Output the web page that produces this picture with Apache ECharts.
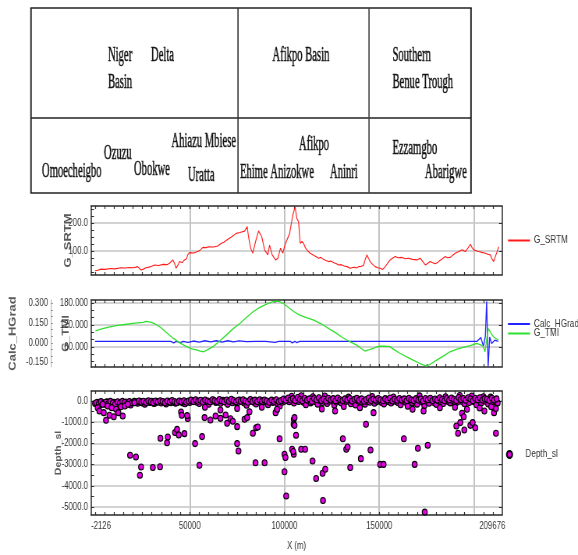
<!DOCTYPE html>
<html><head><meta charset="utf-8">
<script src="https://cdn.jsdelivr.net/npm/echarts@6.0.0/dist/echarts.min.js"></script>
<style>
html,body{margin:0;padding:0;background:#fff;overflow:hidden;width:578px;height:555px}
#c{width:741px;height:555px;transform:scaleX(0.78);transform-origin:0 0}
</style>
</head><body><div id="c"></div>
<script>
// ---------------- data ----------------
const xLabelValues = [-2126, 50000, 100000, 150000, 200000, 209676];
const xGridValues = [50000, 100000, 150000, 200000];
const srtmLabels = [100, 200];
const tmiLabels = [60, 120, 180];
const hgradLabels = [-0.15, 0, 0.15, 0.3];
const depthLabels = [0, -1000, -2000, -3000, -4000, -5000];

const srtm = [[0,29],[1500,31],[3100,35],[5500,34],[8000,37],[10500,36],[13700,40],[16000,39],[18000,41],[20500,40],[22500,44],[24300,32],[25500,35],[26900,40],[29000,43],[31400,50],[33500,48],[36000,52],[38000,51],[39300,56],[41000,68],[42000,55],[42800,38],[43800,50],[44600,62],[46000,58],[47200,68],[48300,72],[48900,86],[49800,94],[52000,93],[54200,98],[55500,103],[56900,113],[58500,112],[60000,115],[62500,114],[64800,118],[66500,127],[68000,131],[70100,142],[72000,150],[74500,163],[76500,166],[78900,171],[79600,176],[80300,187],[81000,151],[82100,110],[83300,92],[84700,133],[86300,172],[88000,151],[89500,104],[91200,86],[92100,121],[93500,86],[95300,68],[96500,74],[97900,110],[99100,92],[100000,115],[100900,133],[102700,163],[104400,229],[105600,258],[106500,217],[107400,205],[108300,127],[109200,134],[110100,127],[111000,112],[111800,104],[112600,97],[113500,92],[114500,88],[115500,84],[116800,79],[118000,74],[119200,77],[120500,70],[121800,66],[123300,62],[124500,64],[126000,58],[127200,55],[128500,50],[130000,51],[131500,46],[133000,44],[134700,38],[136000,41],[137000,42],[138000,39],[139100,44],[140500,45],[141700,48],[142600,70],[143500,86],[144300,74],[145200,62],[146500,52],[147900,44],[149200,40],[150500,38],[151800,34],[153200,44],[154500,57],[155800,68],[157000,74],[158400,80],[160000,76],[162000,77],[163800,72],[165500,74],[167500,70],[169900,68],[171600,74],[173000,62],[174300,50],[175500,55],[176900,62],[178200,58],[179600,54],[181000,60],[182000,66],[183500,73],[184800,80],[186000,76],[187500,77],[188800,85],[190100,92],[191800,97],[193700,104],[194500,110],[195400,98],[196800,110],[198100,124],[199000,112],[199900,104],[201200,101],[202500,98],[204200,95],[206000,92],[207300,88],[208600,86],[209500,72],[210400,62],[211600,86],[213100,115]];

const tmi = [[200,104],[4000,110],[7700,115],[12000,119],[16600,122],[21000,125],[25300,127],[27000,130],[29800,127],[32000,122],[34200,115],[37500,100],[41200,84],[44500,72],[48300,61],[51000,55],[53500,52],[55500,49],[57400,47],[59500,53],[62300,61],[65500,75],[69400,93],[72500,108],[76400,124],[80000,141],[83400,156],[87000,168],[90500,177],[92500,181],[94900,185],[97000,184],[99300,179],[102800,165],[105000,156],[108100,147],[111500,140],[115100,134],[117500,128],[120400,120],[124000,108],[127500,97],[130000,88],[132800,79],[135500,72],[138100,65],[140500,56],[142400,49],[144500,52],[146800,56],[148500,60],[150400,62],[153000,62],[155600,61],[158000,52],[160900,43],[164500,33],[167900,24],[171500,15],[175000,8],[177500,15],[180300,24],[184000,36],[187300,47],[191000,54],[194400,59],[198000,64],[201400,70],[203500,66],[204800,62],[205800,47],[206800,85],[207600,110],[209000,98],[210200,88],[212800,79]];

const hgrad = [[0,0.012],[20000,0.012],[40000,0.012],[41500,0.0],[43000,0.012],[45000,0.002],[46500,0.012],[49000,0.004],[52000,0.014],[55000,0.006],[58000,0.016],[61000,0.008],[64000,0.016],[67000,0.006],[70000,0.016],[73000,0.008],[76000,0.015],[80000,0.01],[85000,0.012],[90000,0.012],[95000,0.004],[97000,0.012],[103000,0.012],[104000,0.0],[105500,0.012],[106500,0.002],[108000,0.012],[130500,0.012],[131000,0.002],[131600,0.012],[140000,0.012],[140600,0.002],[141600,0.012],[142300,0.002],[143000,0.012],[187800,0.012],[188300,0.004],[188900,0.012],[193000,0.012],[193500,0.004],[194000,0.012],[201700,0.012],[203600,0.04],[205000,-0.025],[206000,0.05],[206700,0.315],[207500,-0.18],[208300,0.045],[209300,-0.005],[211000,0.02],[212800,0.012]];

const depthBand = [[0,-120],[1300,-60],[2500,-200],[3800,-90],[5000,-150],[6300,-40],[7500,-180],[8800,-100],[10000,-60],[11300,-220],
[12500,-130],[13800,-80],[15000,-170],[16300,-50],[17500,-110],[18800,-190],[20000,-70],[21300,-40],[22500,-110],[23800,-20],
[25000,-90],[26300,-150],[27500,-30],[28800,-70],[30000,-10],[31300,-120],[32500,-60],[33800,-30],[35000,-100],[36300,-50],
[37500,-140],[38800,-20],[40000,-80],[41300,-40],[42500,-110],[43800,-60],[45000,-20],[46300,-90],[47500,-130],[48800,-30],
[50000,-70],[51300,-10],[52500,20],[53800,-60],[55000,-120],[56300,10],[57500,-30],[58800,-90],[60000,-150],[61300,-20],
[62500,40],[63800,-70],[65000,-10],[66300,-110],[67500,30],[68800,-50],[70000,-160],[71300,0],[72500,-80],[73800,-30],
[75000,-120],[76300,50],[77500,-40],[78800,-100],[80000,-200],[81300,-20],[82500,30],[83800,-60],[85000,-140],[86300,-10],
[87500,-90],[88800,20],[90000,-50],[91300,-180],[92500,-30],[93800,-70],[95000,10],[96300,-120],[97500,-240],[98800,-60],
[100000,-10],[101300,80],[102500,-40],[103800,220],[105000,-100],[106300,60],[107500,-20],[108800,250],[110000,-60],[111300,-180],
[112500,40],[113800,-90],[115000,200],[116300,-30],[117500,-150],[118800,20],[120000,-70],[121300,230],[122500,-120],[123800,-10],
[125000,60],[126300,-200],[127500,-50],[128800,30],[130000,-100],[131300,-260],[132500,-20],[133800,180],[135000,-130],[136300,-40],
[137500,-190],[138800,10],[140000,-80],[141300,50],[142500,-150],[143800,-20],[145000,-60],[146300,210],[147500,-110],[148800,-30],
[150000,20],[151300,-70],[152500,-140],[153800,40],[155000,-40],[156300,-100],[157500,190],[158800,-20],[160000,-80],[161300,-180],
[162500,0],[163800,-60],[165000,-250],[166300,30],[167500,-90],[168800,-30],[170000,-150],[171300,240],[172500,-50],[173800,-220],
[175000,-10],[176300,-110],[177500,40],[178800,-70],[180000,-160],[181300,10],[182500,-40],[183800,-120],[185000,200],[186300,-30],
[187500,-90],[188800,20],[190000,-200],[191300,-50],[192500,260],[193800,-20],[195000,-130],[196300,40],[197500,-70],[198800,230],
[200000,-40],[201300,-180],[202500,30],[203800,-100],[205000,200],[206300,-20],[207500,-140],[208800,180],[210000,-60],[211300,-10],[212500,-90]];

const depthBand2 = [[650,-80],[1950,-150],[3150,-30],[4450,-110],[5650,-60],[6950,-130],[8150,-20],[9450,-90],[10650,-160],[11950,-40],
[13150,-100],[14450,-20],[15650,-70],[16950,-140],[18150,-30],[19450,-90],[20650,-20],[21950,-60],[23150,0],[24450,-50],
[25650,-10],[26950,-70],[28150,10],[29450,-40],[30650,-90],[31950,0],[33150,-50],[34450,10],[35650,-30],[36950,-80],
[38150,0],[39450,-50],[40650,20],[41950,-30],[43150,-70],[44450,0],[45650,-40],[46950,10],[48150,-60],[49450,0],
[50650,40],[51950,-30],[53150,60],[54450,-10],[55650,30],[56950,-50],[58150,50],[59450,0],[60650,-40],[61950,60],
[63150,10],[64450,-30],[65650,70],[66950,0],[68150,-40],[69450,50],[70650,-10],[71950,80],[73150,20],[74450,-40],
[75650,30],[76950,-10],[78150,60],[79450,0],[80650,-60],[81950,70],[83150,-20],[84450,40],[85650,-30],[86950,60],
[88150,-10],[89450,50],[90650,0],[91950,-60],[93150,40],[94450,-20],[95650,60],[96950,-30],[98150,20],[99450,90],
[100650,30],[101950,140],[103150,50],[104450,110],[105650,20],[106950,160],[108150,70],[109450,10],[110650,130],[111950,40],
[113150,100],[114450,-20],[115650,120],[116950,60],[118150,150],[119450,20],[120650,90],[121950,0],[123150,130],[124450,50],
[125650,110],[126950,10],[128150,140],[129450,60],[130650,20],[131950,100],[133150,40],[134450,120],[135650,0],[136950,80],
[138150,130],[139450,30],[140650,100],[141950,-10],[143150,70],[144450,140],[145650,20],[146950,90],[148150,40],[149450,120],
[150650,60],[151950,10],[153150,110],[154450,40],[155650,140],[156950,0],[158150,80],[159450,30],[160650,120],[161950,50],
[163150,100],[164450,10],[165650,130],[166950,60],[168150,20],[169450,110],[170650,40],[171950,90],[173150,0],[174450,120],
[175650,60],[176950,130],[178150,20],[179450,90],[180650,40],[181950,150],[183150,70],[184450,10],[185650,120],[186950,50],
[188150,140],[189450,80],[190650,20],[191950,160],[193150,70],[194450,120],[195650,30],[196950,150],[198150,90],[199450,10],
[200650,130],[201950,60],[203150,150],[204450,40],[205650,110],[206950,80],[208150,20],[209450,130],[210650,50],[211950,100]];

const depthShallow = [[1400,-315],[2300,-470],[4000,-155],[4600,-550],[6700,-235],[7600,-675],[8800,-315],[9900,-740],[11100,-390],[12300,-550],[13700,-270],[14600,-710],[15800,-235],[17300,-155],[20800,-80],
[58000,-300],[75000,-350],[88000,-300],[96000,-420],[119700,-380],[126700,-470],[139800,-315],[147000,-550],[167600,-390],[173400,-470],[182000,-320],[190000,-300],[203000,-330]];

const depthDeep = [[5800,-910],[18500,-2560],[21600,-2640],[24300,-3110],[23700,-3500],[30500,-3140],[34300,-3100],[34500,-1760],[38000,-1970],[38400,-1700],
[42200,-1490],[43300,-1340],[44200,-1600],[47200,-1540],[45400,-520],[45800,-675],[48900,-830],[48600,-690],[52800,-2010],[55100,-3030],
[56500,-1680],[57800,-785],[60900,-900],[63600,-710],[66200,-425],[66200,-820],[68900,-660],[69700,-1050],[71500,-835],[72700,-960],
[75000,-1210],[75000,-2010],[75700,-2360],[78900,-865],[80300,-785],[81500,-505],[83300,-1520],[85000,-1260],[85900,-1230],[84700,-2910],
[89500,-2910],[95300,-550],[96100,-390],[97400,-1780],[100000,-2510],[100500,-2670],[100000,-3340],[100900,-4480],[104000,-2280],[104900,-865],
[104800,-1100],[106100,-1620],[104900,-2510],[105300,-785],[105300,-1150],[104600,-2380],[108800,-2280],[110900,-2280],[114800,-2830],[116700,-3660],
[120100,-3410],[121500,-3220],[120300,-4690],[130800,-1780],[132600,-2280],[133300,-2170],[134700,-3140],[140300,-2720],[143000,-1100],[145400,-2310],
[150500,-2990],[152300,-2990],[163000,-1780],[168700,-2990],[170400,-2230],[175600,-2090],[174000,-5240],[190700,-1180],[191600,-1520],[192800,-1020],
[193700,-580],[194600,-740],[194900,-1370],[196300,-390],[198100,-1150],[199300,-1020],[200700,-1260],[205500,-470],[209100,-270],[210600,-550],
[211600,-360],[211600,-1520]];

// ---------------- layout / style ----------------
// The page is drawn 1/S wider and squeezed horizontally by CSS (narrow lettering like the reference).
const S = 0.78;
const X = px => px / S;
const XMIN = -2126, XMAX = 214800;
const SANS = "'Liberation Sans','Arial',sans-serif";
const SERIF = "'Liberation Serif','DejaVu Serif',serif";
const FRAME = '#2a2a2a', GRIDC = '#c4c4c4', LBL = '#333', NAMEC = '#5a5a5a';
const FS = 10;
const xMinor = []; for (let v = 0; v <= 210000; v += 5000) xMinor.push(v);
function range(a, b, s) { const r = []; for (let v = a; v <= b + 1e-9; v += s) r.push(+v.toFixed(6)); return r; }

const GL = X(91), GW = X(411);
const grids = [
  {left: GL, top: 206, width: GW, height: 69, outerBoundsMode: 'none', containLabel: false},
  {left: GL, top: 300, width: GW, height: 67, outerBoundsMode: 'none', containLabel: false},
  {left: GL, top: 391, width: GW, height: 124, outerBoundsMode: 'none', containLabel: false}
];

function xAxesFor(gi, showLabels) {
  const common = {type: 'value', gridIndex: gi, min: XMIN, max: XMAX};
  return [
    Object.assign({}, common, {position: 'bottom',
      axisLine: {show: true, onZero: false, lineStyle: {color: FRAME, width: 1.5}},
      axisTick: {show: true, inside: true, length: 3, customValues: xMinor, lineStyle: {color: FRAME, width: 1.2}},
      axisLabel: {show: showLabels, customValues: xLabelValues, formatter: v => String(Math.round(v)), margin: 6,
        fontSize: FS, color: LBL, fontFamily: SANS, showMinLabel: true, showMaxLabel: true, hideOverlap: false, alignMinLabel: 'left'},
      splitLine: {show: false},
      name: showLabels ? 'X (m)' : '', nameLocation: 'middle', nameGap: 26, nameMoveOverlap: false,
      nameTextStyle: {fontSize: FS, color: LBL, fontFamily: SANS}}),
    Object.assign({}, common, {position: 'top',
      axisLine: {show: true, onZero: false, lineStyle: {color: FRAME, width: 1.5}},
      axisTick: {show: true, inside: true, length: 3, customValues: xMinor, lineStyle: {color: FRAME, width: 1.2}},
      axisLabel: {show: false}, splitLine: {show: false}}),
    Object.assign({}, common, {position: 'bottom',
      axisLine: {show: false, onZero: false}, axisTick: {show: false, customValues: xGridValues},
      axisLabel: {show: false}, splitLine: {show: true, lineStyle: {color: GRIDC, width: 2}}})
  ];
}

function nameGapFor(axisPx, centerPx, nfs) { return (axisPx - centerPx) / S - nfs * 0.58; }

function yPair(gi, min, max, labels, minor, fmt, name, centerPx, nfs) {
  return [
    {type: 'value', gridIndex: gi, position: 'left', min: min, max: max,
     axisLine: {show: true, onZero: false, lineStyle: {color: FRAME, width: 1.5}},
     axisTick: {show: true, inside: true, length: X(3), customValues: minor, lineStyle: {color: FRAME}},
     axisLabel: {customValues: labels, formatter: fmt, margin: X(3), fontSize: FS, color: LBL, fontFamily: SANS,
       showMinLabel: true, showMaxLabel: true, hideOverlap: false},
     splitLine: {show: false},
     name: name, nameLocation: 'middle', nameGap: nameGapFor(91, centerPx, nfs), nameMoveOverlap: false,
     nameTextStyle: {fontSize: nfs, color: NAMEC, fontWeight: 'bold', fontFamily: SANS}},
    {type: 'value', gridIndex: gi, position: 'right', min: min, max: max,
     axisLine: {show: true, onZero: false, lineStyle: {color: FRAME, width: 1.5}},
     axisTick: {show: true, inside: true, length: X(3), customValues: labels, lineStyle: {color: FRAME}},
     axisLabel: {show: false},
     splitLine: {show: true, lineStyle: {color: GRIDC, width: 1.5}}}
  ];
}

const SRTM_MIN = 14, SRTM_MAX = 261, TMI_MIN = 5.5, TMI_MAX = 188, HG_MIN = -0.183, HG_MAX = 0.325, D_MIN = -5377, D_MAX = 470;

const xAxis = [].concat(xAxesFor(0, false), xAxesFor(1, false), xAxesFor(2, true));
const yAxis = [].concat(
  yPair(0, SRTM_MIN, SRTM_MAX, srtmLabels, range(25, 250, 25), v => v.toFixed(1), 'G_SRTM', 67, 13),   // 0,1
  yPair(1, TMI_MIN, TMI_MAX, tmiLabels, range(20, 180, 20), v => v.toFixed(3), 'G_TMI', 65, 12),       // 2,3
  [{type: 'value', gridIndex: 1, position: 'left', offset: X(40), min: HG_MIN, max: HG_MAX,            // 4
    axisLine: {show: true, onZero: false, lineStyle: {color: '#aaa', width: 1}},
    axisTick: {show: true, inside: true, length: X(2), customValues: range(-0.15, 0.3, 0.05), lineStyle: {color: '#999'}},
    axisLabel: {customValues: hgradLabels, formatter: v => v.toFixed(3), margin: X(3), fontSize: FS, color: LBL, fontFamily: SANS,
      showMinLabel: true, showMaxLabel: true, hideOverlap: false},
    splitLine: {show: false},
    name: 'Calc_HGrad', nameLocation: 'middle', nameGap: nameGapFor(51, 12, 13), nameMoveOverlap: false,
    nameTextStyle: {fontSize: 13, color: NAMEC, fontWeight: 'bold', fontFamily: SANS}}],
  yPair(2, D_MIN, D_MAX, depthLabels, range(-5000, 0, 500), v => v.toFixed(1), 'Depth_sl', 58, 10.5)   // 5,6
);

const series = [
  {name: 'G_SRTM', type: 'line', xAxisIndex: 0, yAxisIndex: 0, data: srtm, symbol: 'none',
   lineStyle: {color: '#ff1a1a', width: 1.1}, itemStyle: {color: '#ff1a1a'}},
  {name: 'Calc_HGrad', type: 'line', xAxisIndex: 3, yAxisIndex: 4, data: hgrad, symbol: 'none',
   lineStyle: {color: '#2323ff', width: 1.3}, itemStyle: {color: '#2323ff'}},
  {name: 'G_TMI', type: 'line', xAxisIndex: 3, yAxisIndex: 2, data: tmi, symbol: 'none',
   lineStyle: {color: '#2ee02e', width: 1.3}, itemStyle: {color: '#2ee02e'}},
  {name: 'Depth_sl', type: 'scatter', xAxisIndex: 6, yAxisIndex: 5, data: depthBand.concat(depthBand2, depthShallow, depthDeep),
   symbol: 'circle', symbolSize: [X(5), 6], itemStyle: {color: '#e000e0', borderColor: '#000', borderWidth: 1.1, opacity: 1}}
];

function leg(name, icon, left, top, w, h) {
  return {data: [{name: name, icon: icon}], left: X(left), top: top, orient: 'vertical', padding: 0, itemWidth: X(w), itemHeight: h, itemGap: 5,
    textStyle: {fontSize: 10.5, color: LBL, fontFamily: SANS, lineHeight: 10}};
}

// ---------------- table (graphic) ----------------
const tableTexts = [
  ['Niger', 108, 56], ['Delta', 151, 56], ['Basin', 108, 83],
  ['Afikpo Basin', 272.5, 56],
  ['Southern', 392.5, 56], ['Benue Trough', 392.5, 83],
  ['Ahiazu Mbiese', 171.5, 142], ['Ozuzu', 104, 153.5], ['Omoecheigbo', 42, 172], ['Obokwe', 134, 170], ['Uratta', 188, 176],
  ['Afikpo', 299, 145], ['Ehime Anizokwe', 240, 173], ['Aninri', 330, 173],
  ['Ezzamgbo', 392.5, 148.5], ['Abarigwe', 425, 173]
];
const hLine = (x1, x2, y, w) => ({type: 'line', shape: {x1: X(x1), y1: y, x2: X(x2), y2: y}, style: {stroke: '#222', lineWidth: w}});
const vLine = (x, y1, y2, w, c) => ({type: 'line', shape: {x1: X(x), y1: y1, x2: X(x), y2: y2}, style: {stroke: c, lineWidth: w / S}});
const graphic = [
  hLine(30.3, 471.7, 8, 1.5), hLine(30.3, 471.7, 193, 1.5), hLine(31, 471, 118, 1.5),
  vLine(31, 8, 193, 1.5, '#222'), vLine(471, 8, 193, 1.5, '#222'),
  vLine(238, 8, 193, 1.3, '#333'), vLine(369, 8, 193, 1.3, '#444')
].concat(tableTexts.map(t => ({type: 'text', x: X(t[1]), y: t[2], scaleX: 0.53 / S,
  style: {text: t[0], font: '20px ' + SERIF, fill: '#111', stroke: '#222', lineWidth: 0.5, textAlign: 'left', verticalAlign: 'middle'}})));

const chart = echarts.init(document.getElementById('c'), null, {renderer: 'canvas', width: 741, height: 555});
chart.setOption({
  animation: false,
  backgroundColor: '#fff',
  grid: grids,
  xAxis: xAxis,
  yAxis: yAxis,
  series: series,
  legend: [leg('G_SRTM', 'rect', 508, 235, 22, 2), leg('Calc_HGrad', 'rect', 508, 318.5, 22, 2),
           leg('G_TMI', 'rect', 508, 328, 22, 2), leg('Depth_sl', 'circle', 506, 449, 24, 7)],
  graphic: graphic
});
</script>
</body></html>
